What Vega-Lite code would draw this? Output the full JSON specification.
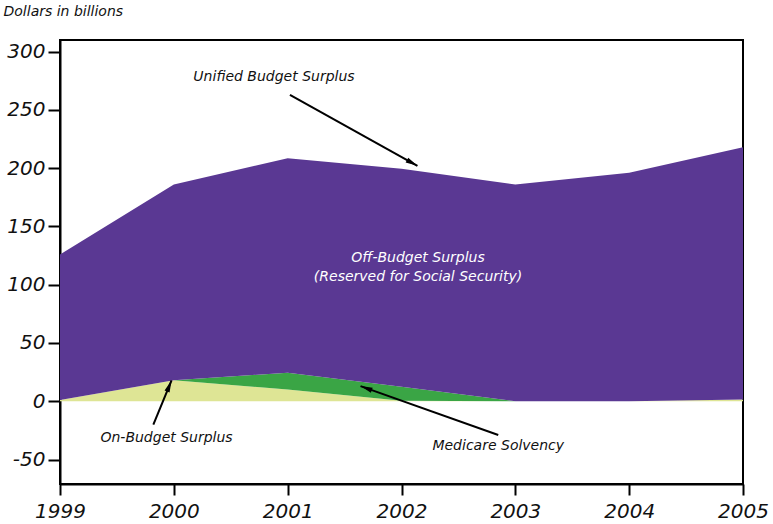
{
  "$schema": "https://vega.github.io/schema/vega-lite/v6.json",
  "width": 683,
  "height": 444,
  "autosize": "none",
  "padding": {"left": 60, "top": 40, "right": 30, "bottom": 40},
  "background": "white",
  "config": {
    "font": "DejaVu Sans",
    "view": {"stroke": "black", "strokeWidth": 2},
    "axis": {"domainColor": "black", "tickColor": "black", "labelColor": "#111", "grid": false}
  },
  "datasets": {
    "budget": [
      {"year": 1999, "series": "On-Budget Surplus", "rank": 1, "value": 1},
      {"year": 2000, "series": "On-Budget Surplus", "rank": 1, "value": 18},
      {"year": 2001, "series": "On-Budget Surplus", "rank": 1, "value": 10},
      {"year": 2002, "series": "On-Budget Surplus", "rank": 1, "value": 0.5},
      {"year": 2003, "series": "On-Budget Surplus", "rank": 1, "value": 0},
      {"year": 2004, "series": "On-Budget Surplus", "rank": 1, "value": 0},
      {"year": 2005, "series": "On-Budget Surplus", "rank": 1, "value": 1.5},
      {"year": 1999, "series": "Medicare Solvency", "rank": 2, "value": 0},
      {"year": 2000, "series": "Medicare Solvency", "rank": 2, "value": 0},
      {"year": 2001, "series": "Medicare Solvency", "rank": 2, "value": 14.5},
      {"year": 2002, "series": "Medicare Solvency", "rank": 2, "value": 12},
      {"year": 2003, "series": "Medicare Solvency", "rank": 2, "value": 0},
      {"year": 2004, "series": "Medicare Solvency", "rank": 2, "value": 0},
      {"year": 2005, "series": "Medicare Solvency", "rank": 2, "value": 0},
      {"year": 1999, "series": "Off-Budget Surplus", "rank": 3, "value": 125},
      {"year": 2000, "series": "Off-Budget Surplus", "rank": 3, "value": 168},
      {"year": 2001, "series": "Off-Budget Surplus", "rank": 3, "value": 184},
      {"year": 2002, "series": "Off-Budget Surplus", "rank": 3, "value": 187},
      {"year": 2003, "series": "Off-Budget Surplus", "rank": 3, "value": 186},
      {"year": 2004, "series": "Off-Budget Surplus", "rank": 3, "value": 196},
      {"year": 2005, "series": "Off-Budget Surplus", "rank": 3, "value": 216.5}
    ],
    "arrows": [
      {"label": "unified", "x": 2001.02, "y": 263, "x2": 2002.14, "y2": 202},
      {"label": "onbudget", "x": 1999.82, "y": -20, "x2": 1999.98, "y2": 18},
      {"label": "medicare", "x": 2002.85, "y": -29, "x2": 2001.64, "y2": 13}
    ],
    "notes": [
      {"text": "Unified Budget Surplus", "x": 2000.88, "y": 278},
      {"text": "On-Budget Surplus", "x": 1999.936, "y": -31.3},
      {"text": "Medicare Solvency", "x": 2002.85, "y": -38}
    ],
    "inner": [
      {"text": "Off-Budget Surplus", "x": 2002.145, "y": 123},
      {"text": "(Reserved for Social Security)", "x": 2002.145, "y": 106.8}
    ]
  },
  "layer": [
    {
      "data": {"name": "budget"},
      "mark": {"type": "area", "interpolate": "linear"},
      "encoding": {
        "x": {
          "field": "year",
          "type": "quantitative",
          "scale": {"domain": [1999, 2005], "nice": false, "zero": false},
          "axis": {
            "title": null,
            "values": [1999, 2000, 2001, 2002, 2003, 2004, 2005],
            "format": "d",
            "tickSize": 11,
            "tickWidth": 2,
            "domainWidth": 2,
            "labelFontSize": 20,
            "labelFontStyle": "italic",
            "labelPadding": 6,
            "labelFlush": false
          }
        },
        "y": {
          "field": "value",
          "type": "quantitative",
          "stack": "zero",
          "scale": {"domain": [-71, 310], "nice": false},
          "axis": {
            "title": "Dollars in billions",
            "titleAngle": 0,
            "titleAlign": "left",
            "titleBaseline": "alphabetic",
            "titleX": -57,
            "titleY": -25,
            "titleFontSize": 14,
            "titleFontStyle": "italic",
            "titleFontWeight": "normal",
            "titleColor": "#111",
            "values": [-50, 0, 50, 100, 150, 200, 250, 300],
            "labelExpr": "replace(datum.label, '\u2212', '-')",
            "tickSize": 12,
            "tickWidth": 2,
            "domainWidth": 2,
            "labelFontSize": 20,
            "labelFontStyle": "italic",
            "labelPadding": 3
          }
        },
        "color": {
          "field": "series",
          "type": "nominal",
          "scale": {
            "domain": ["On-Budget Surplus", "Medicare Solvency", "Off-Budget Surplus"],
            "range": ["#dee595", "#3aa545", "#5a3893"]
          },
          "legend": null
        },
        "order": {"field": "rank", "type": "quantitative"}
      }
    },
    {
      "data": {"name": "arrows"},
      "mark": {"type": "rule", "color": "black", "strokeWidth": 2},
      "encoding": {
        "x": {"field": "x", "type": "quantitative"},
        "y": {"field": "y", "type": "quantitative"},
        "x2": {"field": "x2"},
        "y2": {"field": "y2"}
      }
    },
    {
      "data": {"name": "arrows"},
      "transform": [{"filter": "datum.label === 'unified'"}],
      "mark": {"type": "point", "shape": "M0,0L0.45,2L-0.45,2Z", "filled": true, "color": "black", "opacity": 1, "size": 144, "angle": 119},
      "encoding": {
        "x": {"field": "x2", "type": "quantitative"},
        "y": {"field": "y2", "type": "quantitative"}
      }
    },
    {
      "data": {"name": "arrows"},
      "transform": [{"filter": "datum.label === 'onbudget'"}],
      "mark": {"type": "point", "shape": "M0,0L0.45,2L-0.45,2Z", "filled": true, "color": "black", "opacity": 1, "size": 144, "angle": 22},
      "encoding": {
        "x": {"field": "x2", "type": "quantitative"},
        "y": {"field": "y2", "type": "quantitative"}
      }
    },
    {
      "data": {"name": "arrows"},
      "transform": [{"filter": "datum.label === 'medicare'"}],
      "mark": {"type": "point", "shape": "M0,0L0.45,2L-0.45,2Z", "filled": true, "color": "black", "opacity": 1, "size": 144, "angle": 290},
      "encoding": {
        "x": {"field": "x2", "type": "quantitative"},
        "y": {"field": "y2", "type": "quantitative"}
      }
    },
    {
      "data": {"name": "notes"},
      "mark": {"type": "text", "fontSize": 14, "fontStyle": "italic", "color": "#111", "align": "center", "baseline": "middle"},
      "encoding": {
        "x": {"field": "x", "type": "quantitative"},
        "y": {"field": "y", "type": "quantitative"},
        "text": {"field": "text"}
      }
    },
    {
      "data": {"name": "inner"},
      "mark": {"type": "text", "fontSize": 14, "fontStyle": "italic", "color": "white", "align": "center", "baseline": "middle"},
      "encoding": {
        "x": {"field": "x", "type": "quantitative"},
        "y": {"field": "y", "type": "quantitative"},
        "text": {"field": "text"}
      }
    }
  ]
}
